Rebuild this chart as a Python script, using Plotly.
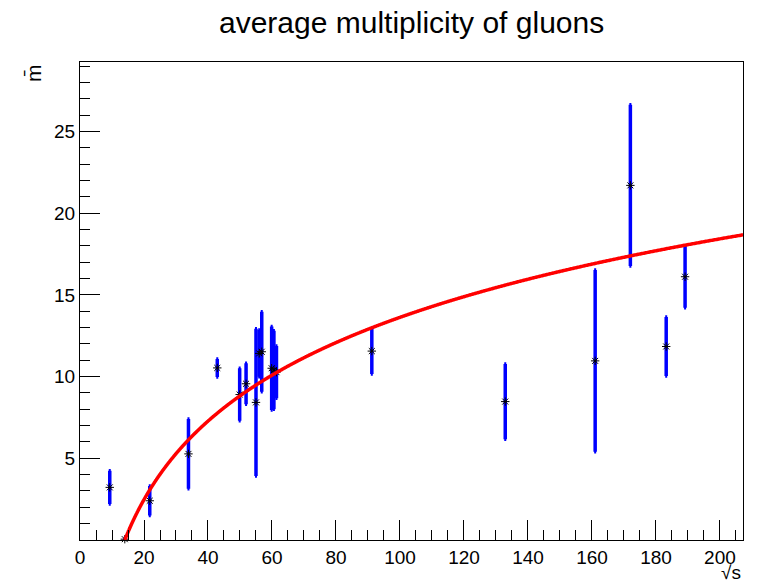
import numpy as np
import plotly.graph_objects as go

# centre-of-mass energies (GeV)
sqrt_s = [9.3, 14.0, 21.8, 33.9, 42.9, 49.9, 51.9, 55.0, 56.0, 56.8,
          59.9, 60.6, 61.4, 91.2, 132.9, 161.0, 172.0, 183.2, 189.1]
# average gluon multiplicity and its uncertainty
mult = [3.22, 0.05, 2.40, 5.27, 10.53, 8.90, 9.56, 8.42, 11.42, 11.52,
        10.51, 10.40, 10.27, 11.56, 8.47, 10.96, 21.70, 11.84, 16.11]
mult_err = [1.02, 0.05, 0.90, 2.13, 0.55, 1.61, 1.26, 4.50, 1.43, 2.45,
            2.55, 2.40, 1.60, 1.40, 2.30, 5.56, 4.93, 1.80, 1.90]

# fit: m(x) = a * ln(x / x0)
fit_a = 6.93
fit_x0 = 14.0
x_max = 207.2
y_max = 29.25

y_ticks = [5, 10, 15, 20, 25]
x_ticks = [0, 20, 40, 60, 80, 100, 120, 140, 160, 180, 200]

xf = np.geomspace(fit_x0, x_max, 800)
yf = fit_a * np.log(xf / fit_x0)

font = "Liberation Sans, Arial, Helvetica, sans-serif"

fig = go.Figure()
fig.add_trace(go.Scatter(
    x=sqrt_s, y=mult, mode="markers",
    marker=dict(symbol="asterisk-open", size=7, color="black",
                line=dict(color="black", width=1)),
    error_y=dict(type="data", array=mult_err, visible=True,
                 color="#0000ff", thickness=3.5, width=1),
    cliponaxis=False, showlegend=False,
))
fig.add_trace(go.Scatter(
    x=xf, y=yf, mode="lines",
    line=dict(color="#ff0000", width=3.5, shape="spline"),
    showlegend=False,
))

axis_common = dict(
    showgrid=False, zeroline=False, showline=True, linecolor="black",
    linewidth=1.3, mirror=True, ticks="inside", ticklen=20, tickwidth=1,
    tickcolor="black", tickfont=dict(family=font, size=19, color="black"),
)
fig.update_xaxes(range=[0, x_max], tickvals=x_ticks,
                 minor=dict(dtick=5, tick0=0, ticks="inside", ticklen=10,
                            tickcolor="black", tickwidth=1),
                 **axis_common)
fig.update_yaxes(range=[0, y_max], tickvals=y_ticks,
                 minor=dict(dtick=1, tick0=0, ticks="inside", ticklen=10,
                            tickcolor="black", tickwidth=1),
                 **axis_common)

fig.update_layout(
    width=762, height=582,
    margin=dict(l=80, r=19, t=62, b=42),
    paper_bgcolor="white", plot_bgcolor="white",
    annotations=[
        dict(text="average multiplicity of gluons", xref="paper",
             yref="paper", x=0.5, y=1, xanchor="center", yanchor="middle",
             yshift=40, showarrow=False,
             font=dict(family=font, size=30, color="black")),
        dict(text="√s", xref="paper", yref="paper", x=1, y=0,
             xanchor="right", yanchor="top", yshift=-20, showarrow=False,
             font=dict(family=font, size=19, color="black")),
        dict(text="m\u0304", xref="paper", yref="paper", x=0, y=1,
             xanchor="center", yanchor="top", xshift=-47, yshift=0,
             textangle=-90, showarrow=False,
             font=dict(family=font, size=21, color="black")),
    ],
)

fig.write_html("out.html")
